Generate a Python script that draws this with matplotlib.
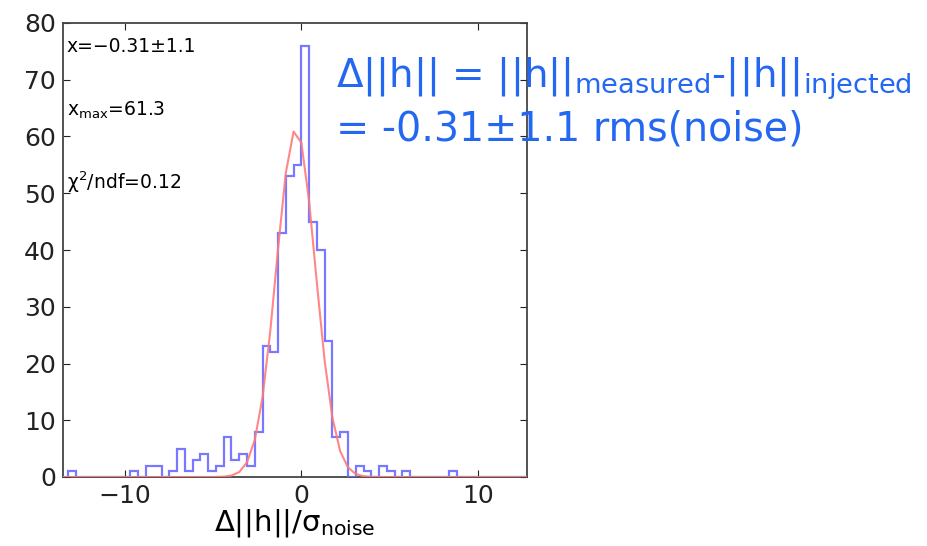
import numpy as np
import matplotlib
matplotlib.use("Agg")
import matplotlib.pyplot as plt

plt.rcParams["font.family"] = ["DejaVu Sans"]
plt.rcParams["mathtext.default"] = "regular"

# ---------- data ----------
BIN_W = 0.44
FIRST_BIN = -31          # index of first bin, edge = FIRST_BIN * BIN_W
counts = [
    0, 1, 0, 0, 0, 0, 0, 0, 0, 1, 0, 2, 2, 0, 1, 5, 1, 3, 4, 1, 2, 7, 3, 4, 2,
    8, 23, 22, 43, 53, 55, 76, 45, 40, 24, 7, 8, 0, 2, 1, 0, 2, 1, 0, 1,
    0, 0, 0, 0, 0, 1, 0, 0, 0, 0, 0, 0, 0, 0, 0, 0,
]
fit_mean = -0.31
fit_sigma = 1.1
fit_amp = 61.3
chi2_ndf = 0.12

x_ticks = [-10, 0, 10]
y_ticks = [0, 10, 20, 30, 40, 50, 60, 70, 80]

COLOR_HIST = "#6b6bff"
COLOR_FIT = "#ff7a7a"
COLOR_NOTE = "#2468f2"

edges = BIN_W * np.arange(FIRST_BIN, FIRST_BIN + len(counts) + 1)
# fit drawn as a polyline through the bin edges
fit_y = fit_amp * np.exp(-0.5 * ((edges - fit_mean) / fit_sigma) ** 2)

fig = plt.figure(figsize=(9.27, 5.46), dpi=100)
ax = fig.add_axes([63 / 927, 1 - 477 / 546, 464 / 927, 454 / 546])

ax.stairs(counts, edges, color=COLOR_HIST, lw=1.6, alpha=0.9, zorder=3)
ax.plot(edges, fit_y, color=COLOR_FIT, lw=1.5, alpha=0.9, zorder=3.1)

ax.set_xlim(-13.5, 12.78)
ax.set_ylim(0, 80)
ax.set_xticks(x_ticks)
ax.set_yticks(y_ticks)
ax.tick_params(direction="in", top=True, right=True, length=5, width=0.8,
               labelsize=18, pad=5, colors="#222222")
for s in ax.spines.values():
    s.set_color("#444444")
    s.set_linewidth(1.3)

ax.set_xlabel(r"$\Delta||h||/\sigma_{noise}$", fontsize=21, labelpad=-1)

# fit summary inside the axes
ax.text(0.008, 0.948, f"x=\u2212{abs(fit_mean):.2f}\u00b1{fit_sigma}",
        transform=ax.transAxes, fontsize=13.5, va="center")
ax.text(0.008, 0.808, rf"$x_{{max}}$={fit_amp}",
        transform=ax.transAxes, fontsize=13.5, va="center")
ax.text(0.008, 0.65, rf"$\chi^2$/ndf={chi2_ndf}",
        transform=ax.transAxes, fontsize=13.5, va="center")

# big annotation to the right
fig.text(336 / 927, 1 - 88 / 546,
         r"$\Delta||h||$ = $||h||_{measured}$-$||h||_{injected}$",
         fontsize=28, color=COLOR_NOTE, va="baseline", ha="left")
fig.text(336 / 927, 1 - 141 / 546,
         f"= -{abs(fit_mean):.2f}\u00b1{fit_sigma} rms(noise)",
         fontsize=28.5, color=COLOR_NOTE, va="baseline", ha="left")

fig.savefig("out.png", dpi=100)
